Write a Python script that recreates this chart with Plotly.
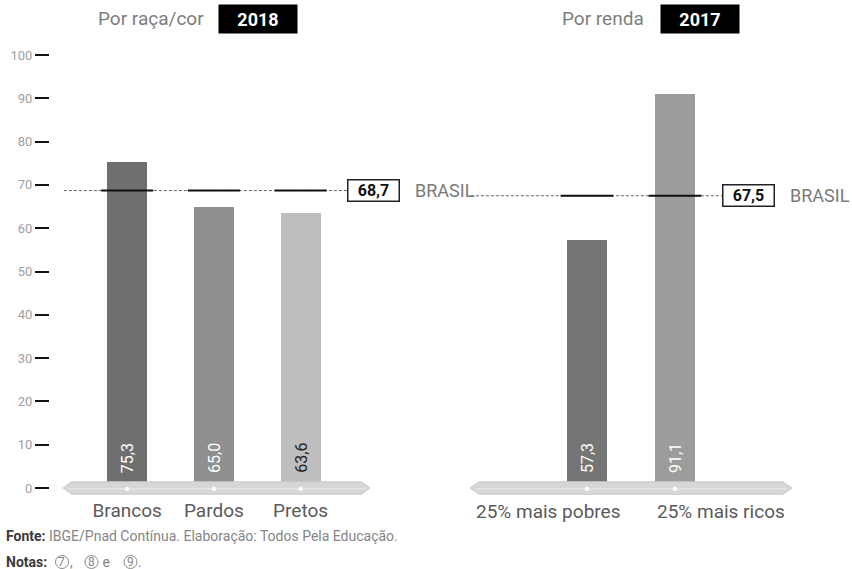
import plotly.graph_objects as go

# Data
raca_categorias = ["Brancos", "Pardos", "Pretos"]
raca_valores = [75.3, 65.0, 63.6]
raca_brasil = 68.7

renda_categorias = ["25% mais pobres", "25% mais ricos"]
renda_valores = [57.3, 91.1]
renda_brasil = 67.5

y_ticks = [0, 10, 20, 30, 40, 50, 60, 70, 80, 90, 100]

notas = ["7", "8", "9"]

raca_cores = ["#6f6f6f", "#8f8f8f", "#bebebe"]
raca_texto_cores = ["#ffffff", "#ffffff", "#222222"]
renda_cores = ["#757575", "#9c9c9c"]
renda_texto_cores = ["#ffffff", "#ffffff"]

FONT = "Roboto"
W, H = 852, 569
Y_RANGE = [-2, 104]
Y_DOMAIN = [0.1271, 0.9337]

X1_RANGE = [-0.74, 2.80]
X1_DOMAIN = [63 / W, 370 / W]
X2_RANGE = [-1.33, 2.33]
X2_DOMAIN = [470 / W, 792 / W]


def fmt(v):
    return f"{v:.1f}".replace(".", ",")


def px(x):
    return x / W


def py(y):
    return 1 - y / H


fig = go.Figure()

pos1 = list(range(len(raca_categorias)))
pos2 = list(range(len(renda_categorias)))

fig.add_trace(go.Bar(x=pos1, y=raca_valores, width=0.46,
                     marker=dict(color=raca_cores, line=dict(width=0)),
                     xaxis="x", yaxis="y", hoverinfo="skip"))
fig.add_trace(go.Bar(x=pos2, y=renda_valores, width=0.455,
                     marker=dict(color=renda_cores, line=dict(width=0)),
                     xaxis="x2", yaxis="y2", hoverinfo="skip"))

shapes = []
annotations = []


def base_band(xref, yref, xr, pos):
    x0, x1 = xr
    tip = (x1 - x0) * 0.028
    path = (f"M {x0},0 L {x0 + tip},1.45 L {x1 - tip},1.45 L {x1},0 "
            f"L {x1 - tip},-1.45 L {x0 + tip},-1.45 Z")
    shapes.append(dict(type="path", path=path, xref=xref, yref=yref,
                       fillcolor="#d6d6d6", line=dict(color="#cacaca", width=1),
                       layer="above"))
    shapes.append(dict(type="line", xref=xref, yref=yref, x0=x0 + tip * 0.6, x1=x1 - tip * 0.6,
                       y0=-0.2, y1=-0.2, line=dict(color="#ececec", width=1), layer="above"))
    for p in pos:
        shapes.append(dict(type="circle", xref=xref, yref=yref,
                           x0=p - 0.025, x1=p + 0.025, y0=-0.7, y1=0.3,
                           fillcolor="#ffffff", line=dict(width=0), layer="above"))


def brasil_line(xref, yref, xr, pos, value, box_x_px, brasil_x_px):
    x0, x1 = xr
    span = x1 - x0
    dom = X1_DOMAIN if xref == "x" else X2_DOMAIN
    px_per_unit = (dom[1] - dom[0]) * W / span
    box_x = x0 + (box_x_px - dom[0] * W) / px_per_unit
    shapes.append(dict(type="line", xref=xref, yref=yref, x0=x0 + 0.01, x1=box_x,
                       y0=value, y1=value, line=dict(color="#666666", width=1, dash="3px,2px"),
                       layer="below"))
    for p in pos:
        shapes.append(dict(type="line", xref=xref, yref=yref, x0=p - 0.30, x1=p + 0.30,
                           y0=value, y1=value, line=dict(color="#111111", width=2),
                           layer="above"))
    annotations.append(dict(x=box_x, y=value, xref=xref, yref=yref, xanchor="left",
                            yanchor="middle", text=f"<b>{fmt(value)}</b>", showarrow=False,
                            font=dict(family=FONT, size=16, color="#111111"),
                            bordercolor="#222222", borderwidth=1.5, borderpad=2,
                            bgcolor="#ffffff", width=46, height=16))
    annotations.append(dict(x=px(brasil_x_px), y=value, xref="paper", yref=yref,
                            xanchor="left", yanchor="middle", text="BRASIL", showarrow=False,
                            font=dict(family=FONT, size=18, color="#7a7a7a")))


def value_labels(xref, yref, pos, vals, colors):
    for p, v, c in zip(pos, vals, colors):
        annotations.append(dict(x=p, y=0, xref=xref, yref=yref, text=fmt(v),
                                textangle=-90, showarrow=False, xanchor="center",
                                yanchor="bottom", yshift=13,
                                font=dict(family=FONT, size=16, color=c)))


base_band("x", "y", X1_RANGE, pos1)
base_band("x2", "y2", X2_RANGE, pos2)
brasil_line("x", "y", X1_RANGE, pos1, raca_brasil, 347, 413)
brasil_line("x2", "y2", X2_RANGE, pos2, renda_brasil, 722, 788)
value_labels("x", "y", pos1, raca_valores, raca_texto_cores)
value_labels("x2", "y2", pos2, renda_valores, renda_texto_cores)

# Income-group labels sit to either side of their bars so they do not collide
LABEL_FONT = dict(family=FONT, size=19, color="#5a5a5a")
annotations.append(dict(x=pos2[0], y=py(511), xref="x2", yref="paper", xanchor="right",
                        yanchor="middle", xshift=35, text=renda_categorias[0],
                        showarrow=False, font=LABEL_FONT))
annotations.append(dict(x=pos2[1], y=py(511), xref="x2", yref="paper", xanchor="left",
                        yanchor="middle", xshift=-20, text=renda_categorias[1],
                        showarrow=False, font=LABEL_FONT))

# Panel headers
annotations += [
    dict(x=px(206), y=py(19), xref="paper", yref="paper", xanchor="right", yanchor="middle",
         text="Por raça/cor", showarrow=False, font=dict(family=FONT, size=19, color="#7d7d7d")),
    dict(x=px(218), y=py(19), xref="paper", yref="paper", xanchor="left", yanchor="middle",
         text="<b>2018</b>", showarrow=False, bgcolor="#000000", width=72, height=22, borderpad=3,
         font=dict(family=FONT, size=18, color="#ffffff")),
    dict(x=px(646), y=py(19), xref="paper", yref="paper", xanchor="right", yanchor="middle",
         text="Por renda", showarrow=False, font=dict(family=FONT, size=19, color="#7d7d7d")),
    dict(x=px(660), y=py(19), xref="paper", yref="paper", xanchor="left", yanchor="middle",
         text="<b>2017</b>", showarrow=False, bgcolor="#000000", width=72, height=22, borderpad=3,
         font=dict(family=FONT, size=18, color="#ffffff")),
]

# Footer: source line and circled note references
FOOT = dict(family=FONT, size=14, color="#858585")
annotations += [
    dict(x=px(4), y=py(536), xref="paper", yref="paper", xanchor="left", yanchor="middle",
         text="<b><span style='color:#3a3a3a'>Fonte:</span></b> IBGE/Pnad Contínua. "
              "Elaboração: Todos Pela Educação.",
         showarrow=False, font=FOOT),
    dict(x=px(4), y=py(562), xref="paper", yref="paper", xanchor="left", yanchor="middle",
         text="<b><span style='color:#3a3a3a'>Notas:</span></b>",
         showarrow=False, font=FOOT),
]
nota_cx = [62, 91.5, 130.5]
nota_sep = [",", " e", "."]
for n, cx, sep in zip(notas, nota_cx, nota_sep):
    shapes.append(dict(type="circle", xref="paper", yref="paper",
                       x0=px(cx - 6.5), x1=px(cx + 6.5), y0=py(568.5), y1=py(555.5),
                       line=dict(color="#8a8a8a", width=1), fillcolor="rgba(0,0,0,0)"))
    annotations.append(dict(x=px(cx), y=py(562), xref="paper", yref="paper",
                            xanchor="center", yanchor="middle", text=n, showarrow=False,
                            font=dict(family=FONT, size=12, color="#858585")))
    annotations.append(dict(x=px(cx + 6.5), y=py(562), xref="paper", yref="paper",
                            xanchor="left", yanchor="middle", text=sep, showarrow=False,
                            xshift=-1, font=FOOT))

axis_common = dict(showgrid=False, zeroline=False, showline=False, fixedrange=True,
                   automargin=False)

fig.update_layout(
    width=W, height=H,
    margin=dict(l=0, r=0, t=0, b=0),
    paper_bgcolor="#ffffff", plot_bgcolor="rgba(0,0,0,0)",
    showlegend=False, bargap=0,
    font=dict(family=FONT),
    xaxis=dict(domain=X1_DOMAIN, range=X1_RANGE, anchor="y", tickmode="array",
               tickvals=pos1, ticktext=raca_categorias, ticks="", tickangle=0,
               tickfont=LABEL_FONT, **axis_common),
    xaxis2=dict(domain=X2_DOMAIN, range=X2_RANGE, anchor="y2", showticklabels=False,
                ticks="", **axis_common),
    yaxis=dict(domain=Y_DOMAIN, range=Y_RANGE, anchor="free", position=px(49),
               tickmode="array", tickvals=y_ticks, ticktext=[str(t) for t in y_ticks],
               ticks="outside", ticklen=14, tickwidth=2, tickcolor="#111111",
               tickfont=dict(family=FONT, size=13, color="#a0a0a0"), **axis_common),
    yaxis2=dict(domain=Y_DOMAIN, range=Y_RANGE, anchor="x2", visible=False, **axis_common),
    shapes=shapes,
    annotations=annotations,
)

fig.write_html("out.html")
